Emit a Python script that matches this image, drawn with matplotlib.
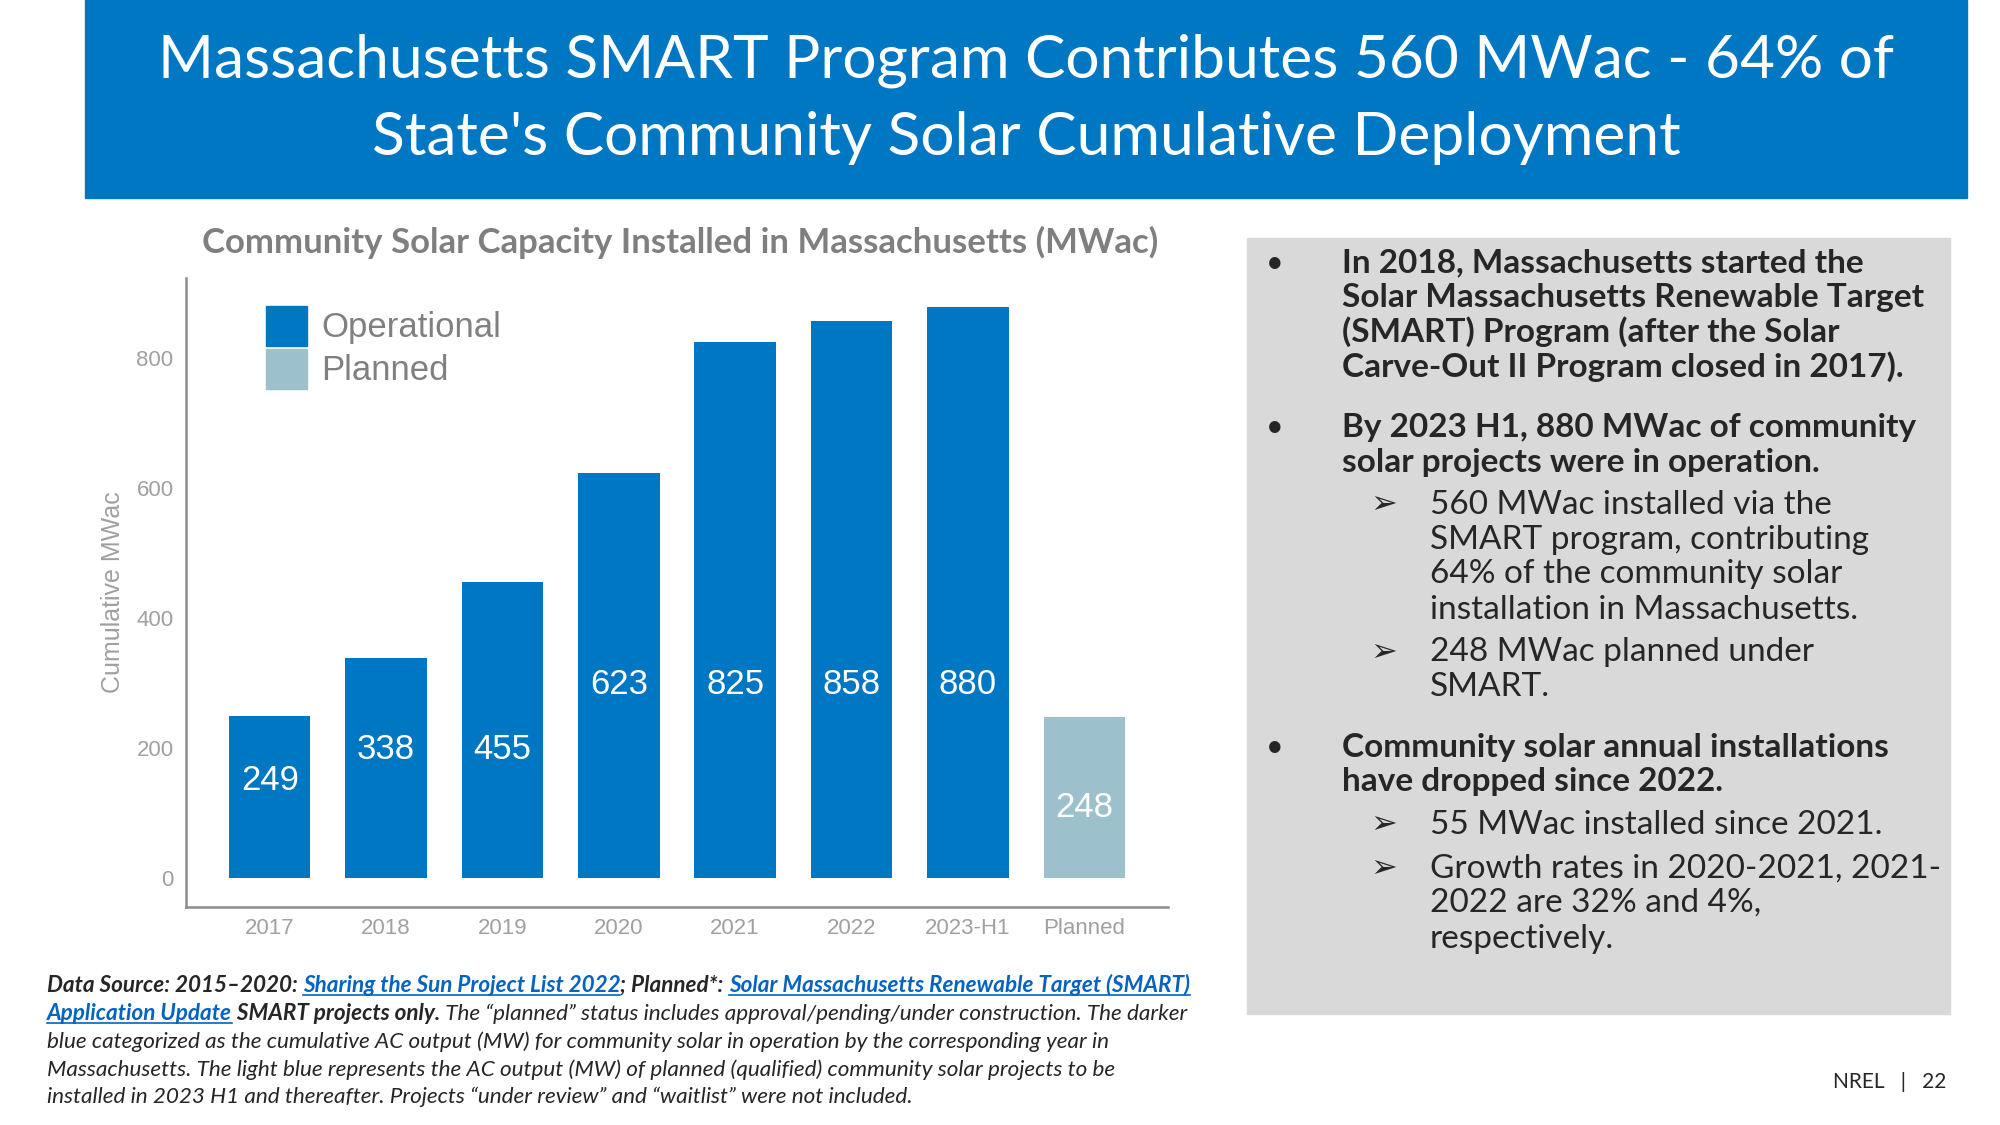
import matplotlib.pyplot as plt
from matplotlib.patches import Rectangle
from matplotlib.lines import Line2D

# chart data
categories = ['2017', '2018', '2019', '2020', '2021', '2022', '2023-H1', 'Planned']
capacity = [249, 338, 455, 623, 825, 858, 880, 248]
status = ['Operational'] * 7 + ['Planned']
y_ticks = [0, 200, 400, 600, 800]

# where the value labels sit inside the bars (data units)
LABEL_Y = [150, 198, 198, 297, 297, 297, 297, 108]

W, H = 2000, 1125
BLUE = '#0077c2'
LIGHT = '#9dc0cd'
DARK = '#262626'
LINK = '#0563c1'
SANS = 'Lato'
ARIAL = 'Liberation Sans'


def fx(x):
    return x / W


def fy(y):
    return 1 - y / H


fig = plt.figure(figsize=(20, 11.25), dpi=100)

# title banner
fig.add_artist(Rectangle((fx(85), fy(198)), (1967 - 85) / W, 198 / H,
                         transform=fig.transFigure, color=BLUE, zorder=0))
fig.text(fx(1026), fy(61), "Massachusetts SMART Program Contributes 560 MWac - 64% of",
         ha='center', va='center', color='white', fontsize=43.5, family=SANS)
fig.text(fx(1026), fy(138), "State's Community Solar Cumulative Deployment",
         ha='center', va='center', color='white', fontsize=43.5, family=SANS)

# chart
fig.text(fx(680), fy(242), "Community Solar Capacity Installed in Massachusetts (MWac)",
         ha='center', va='center', color='#7f7f7f', fontsize=25, family=SANS,
         fontweight='bold')

ax = fig.add_axes([186 / W, 1 - 907 / H, (1168 - 186) / W, (907 - 278) / H])
colors = [BLUE if s == 'Operational' else LIGHT for s in status]
x = list(range(len(categories)))
ax.bar(x, capacity, width=0.70, color=colors)
for i, (v, ly) in enumerate(zip(capacity, LABEL_Y)):
    ax.text(i, ly, str(v), ha='center', va='center', color='white',
            fontsize=25, family=ARIAL)

ax.set_xlim(-0.72, 7.72)
ax.set_ylim(-45, 924)
ax.set_yticks(y_ticks)
ax.set_xticks(x, categories)
ax.tick_params(length=0, labelsize=16, labelcolor='#a0a0a0')
ax.tick_params(axis='y', pad=9)
ax.tick_params(axis='x', pad=8)
for lab in ax.get_xticklabels() + ax.get_yticklabels():
    lab.set_family(ARIAL)
for s in ['top', 'right']:
    ax.spines[s].set_visible(False)
for s in ['left', 'bottom']:
    ax.spines[s].set_color('#8c8c8c')
    ax.spines[s].set_linewidth(1.8)
ax.set_ylabel('Cumulative MWac', fontsize=18, color='#a0a0a0', family=ARIAL)
ax.yaxis.set_label_coords(-0.062, 0.5)

# legend drawn by hand to match the square swatches
for top, lab, col in [(306, 'Operational', BLUE), (349, 'Planned', LIGHT)]:
    fig.add_artist(Rectangle((fx(266), fy(top + 40)), 41 / W, 40 / H,
                             transform=fig.transFigure, color=col))
    fig.text(fx(321), fy(top + 21), lab, ha='left', va='center', fontsize=25,
             color='#808080', family=ARIAL)

# right text panel
fig.add_artist(Rectangle((fx(1247), fy(1014)), (1950 - 1247) / W, (1014 - 238) / H,
                         transform=fig.transFigure, color='#d9d9d9', zorder=0))

panel = [
    (0, [263, 297, 332, 367], ["In 2018, Massachusetts started the",
                               "Solar Massachusetts Renewable Target",
                               "(SMART) Program (after the Solar",
                               "Carve-Out II Program closed in 2017)."]),
    (0, [427, 462], ["By 2023 H1, 880 MWac of community",
                     "solar projects were in operation."]),
    (1, [505, 540, 574, 610], ["560 MWac installed via the",
                               "SMART program, contributing",
                               "64% of the community solar",
                               "installation in Massachusetts."]),
    (1, [652, 687], ["248 MWac planned under", "SMART."]),
    (0, [747, 782], ["Community solar annual installations",
                     "have dropped since 2022."]),
    (1, [825], ["55 MWac installed since 2021."]),
    (1, [869, 903, 939], ["Growth rates in 2020-2021, 2021-",
                          "2022 are 32% and 4%,",
                          "respectively."]),
]
for level, ys, lines in panel:
    if level == 0:
        fig.text(fx(1266), fy(ys[0]), '•', ha='left', va='center', fontsize=22,
                 color=DARK, family=SANS)
        tx, wt = 1342, 'bold'
    else:
        fig.text(fx(1370), fy(ys[0]), '➢', ha='left', va='center', fontsize=23,
                 color=DARK, family='DejaVu Sans')
        tx, wt = 1430, 'normal'
    for yy, line in zip(ys, lines):
        fig.text(fx(tx), fy(yy), line, ha='left', va='center', fontsize=24,
                 color=DARK, family=SANS, fontweight=wt)

# footnote with mixed styles and underlined links
renderer = fig.canvas.get_renderer()
foot = [
    (992, [("Data Source: 2015–2020: ", 'b'), ("Sharing the Sun Project List 2022", 'l'),
           ("; Planned*: ", 'b'), ("Solar Massachusetts Renewable Target (SMART)", 'l')]),
    (1020, [("Application Update", 'l'), (" SMART projects only.", 'b'),
            (" The “planned” status includes approval/pending/under construction. The darker", 'i')]),
    (1048, [("blue categorized as the cumulative AC output (MW) for community solar in operation by the corresponding year in", 'i')]),
    (1076, [("Massachusetts. The light blue represents the AC output (MW) of planned (qualified) community solar projects to be", 'i')]),
    (1103, [("installed in 2023 H1 and thereafter. Projects “under review” and “waitlist” were not included.", 'i')]),
]
for base, segs in foot:
    xpos = 47
    for txt, kind in segs:
        col = LINK if kind == 'l' else DARK
        wt = 'normal' if kind == 'i' else 'bold'
        t = fig.text(fx(xpos), fy(base), txt, ha='left', va='baseline', fontsize=16.2,
                     color=col, family=SANS, style='italic', fontweight=wt)
        bb = t.get_window_extent(renderer)
        if kind == 'l':
            fig.add_artist(Line2D([bb.x0 / W, bb.x1 / W], [fy(base + 3)] * 2,
                                  transform=fig.transFigure, color=LINK, lw=1.2))
        xpos = bb.x1

fig.text(fx(1946), fy(1082), "NREL   |   22", ha='right', va='center', fontsize=15,
         color=DARK, family=SANS)

fig.savefig('out.png', dpi=100, facecolor='white')
